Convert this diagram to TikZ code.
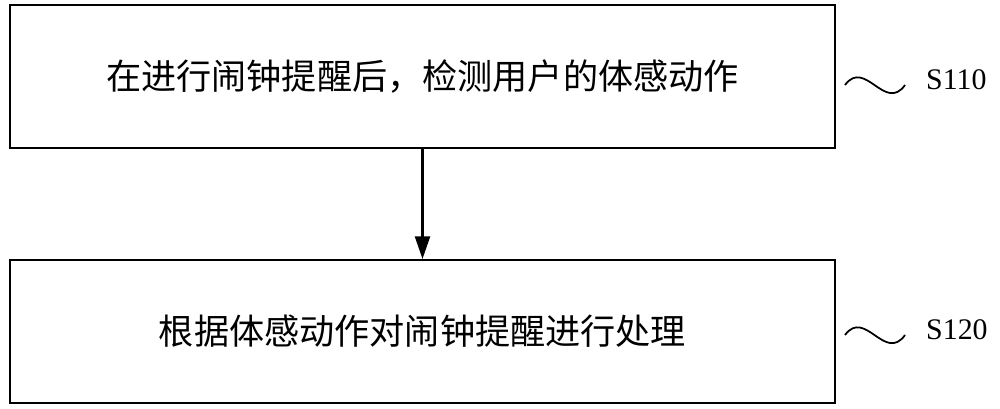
\documentclass[tikz,border=0pt]{standalone}
\usepackage{fontspec}
\setmainfont{Liberation Serif}
\newfontfamily\cjk{Noto Sans CJK SC}
\usetikzlibrary{arrows.meta}
\begin{document}
\begin{tikzpicture}
\tikzset{stepbox/.style={draw,line width=1.2pt,minimum width=16.5cm,minimum height=2.86cm,font=\cjk\fontsize{20}{24}\selectfont},
lbl/.style={font=\fontsize{17}{20}\selectfont,anchor=west},
sq/.style={line width=1pt}}
\useasboundingbox (0,0) rectangle (20,8.16);
\node[stepbox] (a) at (8.45,6.63) {在进行闹钟提醒后，检测用户的体感动作};
\node[stepbox] (b) at (8.45,1.53) {根据体感动作对闹钟提醒进行处理};
\draw[line width=1.2pt,-{Triangle[length=0.45cm,width=0.3cm]}] (a.south) -- (b.north);
\node[lbl] (la) at (18.4,6.56) {S110};
\node[lbl] (lb) at (18.4,1.56) {S120};
\draw[sq] (16.9,6.46) .. controls (17.3,7.0) and (17.7,5.9) .. (18.1,6.46);
\draw[sq] (16.9,1.46) .. controls (17.3,2.0) and (17.7,0.9) .. (18.1,1.46);
\end{tikzpicture}
\end{document}
